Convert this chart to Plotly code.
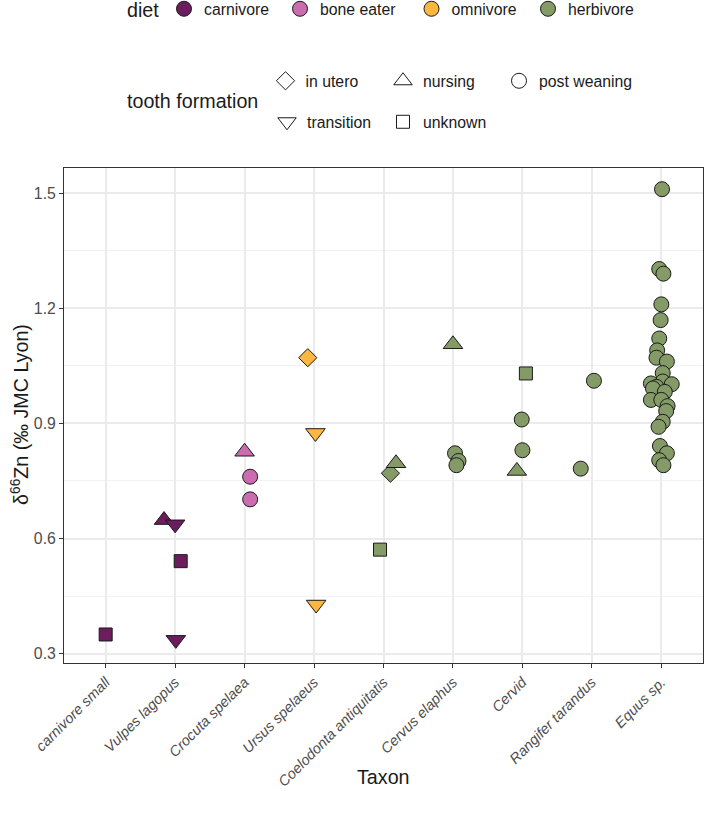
import plotly.graph_objects as go

# ---------------- data ----------------
taxa = ["carnivore small", "Vulpes lagopus", "Crocuta spelaea", "Ursus spelaeus",
        "Coelodonta antiquitatis", "Cervus elaphus", "Cervid", "Rangifer tarandus", "Equus sp."]
diet_levels = ["carnivore", "bone eater", "omnivore", "herbivore"]
tooth_levels = ["in utero", "nursing", "post weaning", "transition", "unknown"]
y_ticks = [0.3, 0.6, 0.9, 1.2, 1.5]
y_tick_labels = ["0.3", "0.6", "0.9", "1.2", "1.5"]

equus_values = [1.510, 1.302, 1.290, 1.210, 1.169, 1.121, 1.090, 1.071, 1.061, 1.031,
                1.009, 1.004, 1.002, 0.995, 0.991, 0.982, 0.961, 0.961, 0.945, 0.932,
                0.904, 0.891, 0.841, 0.822, 0.804, 0.791]
equus_jitter = [0.01, -0.03, 0.03, 0.00, -0.01, -0.03, -0.06, -0.07, 0.08, 0.02,
                0.02, -0.15, 0.15, -0.07, -0.12, 0.05, -0.15, 0.00, 0.09, 0.07,
                0.02, -0.04, -0.02, 0.08, -0.03, 0.03]

taxon = (["carnivore small"]
         + ["Vulpes lagopus"] * 4
         + ["Crocuta spelaea"] * 3
         + ["Ursus spelaeus"] * 3
         + ["Coelodonta antiquitatis"] * 3
         + ["Cervus elaphus"] * 4
         + ["Cervid"] * 4
         + ["Rangifer tarandus"] * 2
         + ["Equus sp."] * len(equus_values))
diet = (["carnivore"] * 5 + ["bone eater"] * 3 + ["omnivore"] * 3
        + ["herbivore"] * (3 + 4 + 4 + 2 + len(equus_values)))
tooth = (["unknown"]
         + ["nursing", "transition", "unknown", "transition"]
         + ["nursing", "post weaning", "post weaning"]
         + ["in utero", "transition", "transition"]
         + ["unknown", "in utero", "nursing"]
         + ["nursing", "post weaning", "post weaning", "post weaning"]
         + ["unknown", "post weaning", "post weaning", "nursing"]
         + ["post weaning", "post weaning"]
         + ["post weaning"] * len(equus_values))
d66zn = ([0.350]
         + [0.648, 0.637, 0.541, 0.336]
         + [0.826, 0.761, 0.702]
         + [1.071, 0.875, 0.428]
         + [0.571, 0.770, 0.796]
         + [1.106, 0.822, 0.802, 0.791]
         + [1.030, 0.910, 0.830, 0.776]
         + [1.011, 0.782]
         + equus_values)
jitter = ([0.0]
          + [-0.16, 0.0, 0.08, 0.01]
          + [0.0, 0.08, 0.08]
          + [-0.09, 0.02, 0.03]
          + [-0.05, 0.10, 0.18]
          + [0.0, 0.03, 0.08, 0.05]
          + [0.05, -0.01, 0.0, -0.08]
          + [0.03, -0.16]
          + equus_jitter)

# ---------------- styles ----------------
FONT = "Liberation Sans, Arial, sans-serif"
diet_colors = {"carnivore": "#6B1D5E", "bone eater": "#CC6CB0",
               "omnivore": "#FBB73F", "herbivore": "#849B68"}
tooth_symbols = {"in utero": "diamond", "nursing": "triangle-up", "post weaning": "circle",
                 "transition": "triangle-down", "unknown": "square"}
tooth_sizes = {"in utero": 14, "nursing": 17, "post weaning": 15,
               "transition": 17, "unknown": 13}

W, H = 704, 814
ML, MR, MT, MB = 64, 1, 168, 151
PW, PH = W - ML - MR, H - MT - MB


def px_to_paper(px, py):
    return (px - ML) / PW, (H - MB - py) / PH


fig = go.Figure()

# data points, grouped by diet x tooth
for d in diet_levels:
    for t in tooth_levels:
        idx = [i for i in range(len(d66zn)) if diet[i] == d and tooth[i] == t]
        if not idx:
            continue
        fig.add_trace(go.Scatter(
            x=[taxa.index(taxon[i]) + jitter[i] for i in idx],
            y=[d66zn[i] for i in idx],
            mode="markers",
            marker=dict(symbol=tooth_symbols[t], size=tooth_sizes[t],
                        color=diet_colors[d], line=dict(color="#1A1A1A", width=1)),
            showlegend=False,
            hovertext=[taxon[i] for i in idx],
        ))

# legend entries (one legend per key for ggplot-like placement)
legend_layouts = {}
diet_pos = {"carnivore": (184, 9), "bone eater": (300, 9),
            "omnivore": (431.5, 9), "herbivore": (548, 9)}
tooth_pos = {"in utero": (285.5, 81), "nursing": (403, 81), "post weaning": (519, 81),
             "transition": (287, 122), "unknown": (403, 122)}


def add_legend(n, label, marker, pos):
    name = "legend" if n == 1 else f"legend{n}"
    fig.add_trace(go.Scatter(x=[None], y=[None], mode="markers", name=label,
                             legend=name, marker=marker))
    lx, ly = px_to_paper(pos[0] - 20, pos[1])
    legend_layouts[name] = dict(x=lx, y=ly, xanchor="left", yanchor="middle",
                                font=dict(size=15.8, color="#1A1A1A", family=FONT),
                                bgcolor="rgba(0,0,0,0)", borderwidth=0)


n = 1
for d in diet_levels:
    add_legend(n, d, dict(symbol="circle", size=15, color=diet_colors[d],
                          line=dict(color="#1A1A1A", width=1)), diet_pos[d])
    n += 1
for t in tooth_levels:
    add_legend(n, t, dict(symbol=tooth_symbols[t], size=tooth_sizes[t], color="white",
                          line=dict(color="#1A1A1A", width=1)), tooth_pos[t])
    n += 1

fig.update_layout(**legend_layouts)

ax_d, ay_d = px_to_paper(125, 10)
ax_t, ay_t = px_to_paper(125, 101)
xt_x, xt_y = px_to_paper(383.5, 777)
yt_x, yt_y = px_to_paper(20, 415)
title_font = dict(size=19.7, color="#1A1A1A", family=FONT)
fig.update_layout(
    width=W, height=H,
    margin=dict(l=ML, r=MR, t=MT, b=MB, autoexpand=False),
    paper_bgcolor="white", plot_bgcolor="white",
    font=dict(family=FONT, color="#1A1A1A"),
    annotations=[
        dict(text="diet", xref="paper", yref="paper", x=ax_d, y=ay_d,
             xanchor="left", yanchor="middle", showarrow=False, font=title_font),
        dict(text="tooth formation", xref="paper", yref="paper", x=ax_t, y=ay_t,
             xanchor="left", yanchor="middle", showarrow=False, font=title_font),
        dict(text="Taxon", xref="paper", yref="paper", x=xt_x, y=xt_y,
             xanchor="center", yanchor="middle", showarrow=False, font=title_font),
        dict(text="δ<sup>66</sup>Zn (‰ JMC Lyon)", xref="paper", yref="paper",
             x=yt_x, y=yt_y, xanchor="center", yanchor="middle", textangle=-90,
             showarrow=False, font=title_font),
    ],
)

fig.update_xaxes(
    range=[-0.6, 8.6], tickmode="array", tickvals=list(range(len(taxa))), ticktext=taxa,
    tickangle=-45, tickfont=dict(size=14.5, color="#4D4D4D", family=FONT, style="italic"),
    showgrid=True, gridcolor="#EBEBEB", gridwidth=1.5, zeroline=False,
    ticks="outside", ticklen=4, tickcolor="#333333", tickwidth=1,
    showline=True, mirror=True, linecolor="#333333", linewidth=1,
)
fig.update_yaxes(
    range=[0.2757, 1.5652], tickmode="array", tickvals=y_ticks, ticktext=y_tick_labels,
    tickfont=dict(size=15.8, color="#4D4D4D", family=FONT),
    showgrid=True, gridcolor="#EBEBEB", gridwidth=1.5, zeroline=False,
    minor=dict(tickmode="array", tickvals=[0.45, 0.75, 1.05, 1.35], showgrid=True,
               gridcolor="#F2F2F2", gridwidth=0.8, ticks=""),
    ticks="outside", ticklen=4, tickcolor="#333333", tickwidth=1,
    showline=True, mirror=True, linecolor="#333333", linewidth=1,
)

fig.write_html("out.html", config={"displayModeBar": False},
               post_script="document.body.style.margin='0';document.body.style.overflow='hidden';")
